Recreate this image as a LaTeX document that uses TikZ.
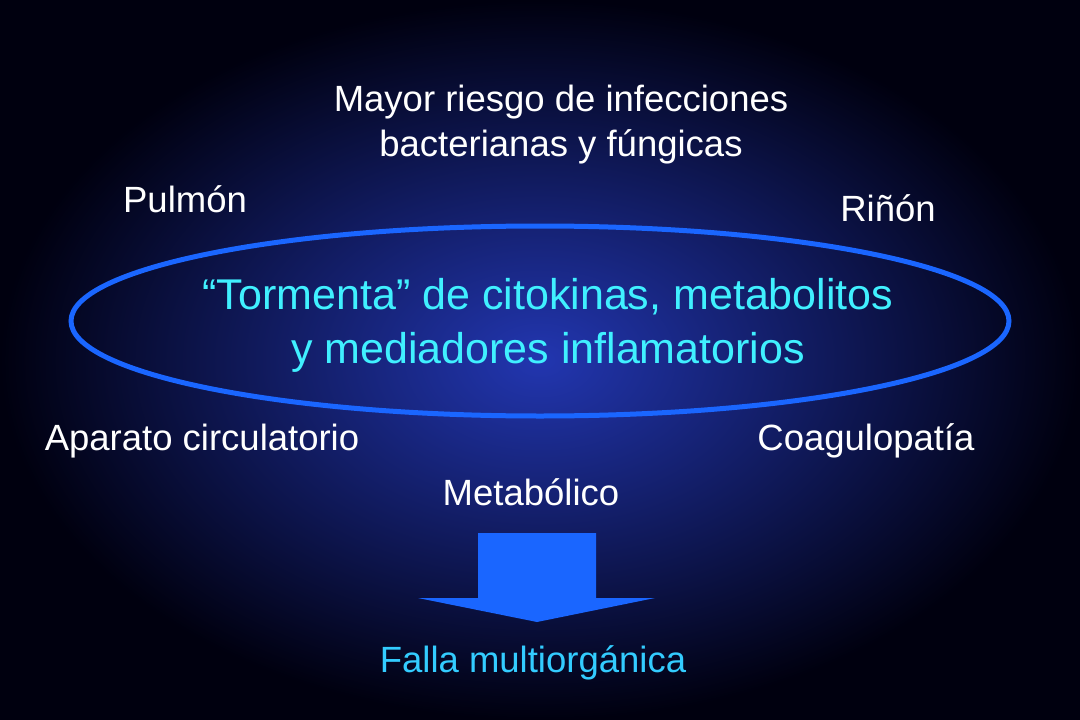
\documentclass[tikz,border=0pt]{standalone}
\usepackage{fontspec}
\setmainfont{Liberation Sans}
\begin{document}
\begin{tikzpicture}[x=1pt,y=-1pt,
  lbl/.style={text=white,font=\fontsize{36.5}{44}\selectfont,align=center,inner sep=0}]
\definecolor{bgin}{HTML}{2236B0}
\definecolor{bgout}{HTML}{00000F}
\definecolor{eblue}{HTML}{1A66FF}
\definecolor{cyant}{HTML}{33CCFF}
\definecolor{cyanc}{HTML}{40F0FF}
\shade[inner color=bgin,outer color=bgout] (0,0) rectangle (1080,720);
\useasboundingbox (0,0) rectangle (1080,720);
\draw[eblue,line width=5pt] (540,321) ellipse [x radius=469,y radius=95];
\node[lbl] (top) at (561,125) {Mayor riesgo de infecciones\\[1pt]bacterianas y fúngicas};
\node[lbl] (pul) at (185,199) {Pulmón};
\node[lbl] (rin) at (888,208) {Riñón};
\node[text=cyanc,font=\fontsize{43}{54}\selectfont,align=center,inner sep=0] (cen) at (548,325) {“Tormenta” de citokinas, metabolitos\\y mediadores inflamatorios};
\node[lbl] (apa) at (202,441) {Aparato circulatorio};
\node[lbl] (coa) at (866,441) {Coagulopatía};
\node[lbl] (met) at (531,492) {Metabólico};
\fill[eblue] (478,533) -- (596,533) -- (596,598) -- (655,598) -- (537,622) -- (418,598) -- (478,598) -- cycle;
\node[lbl,text=cyant] (fal) at (533,663) {Falla multiorgánica};
\end{tikzpicture}
\end{document}
